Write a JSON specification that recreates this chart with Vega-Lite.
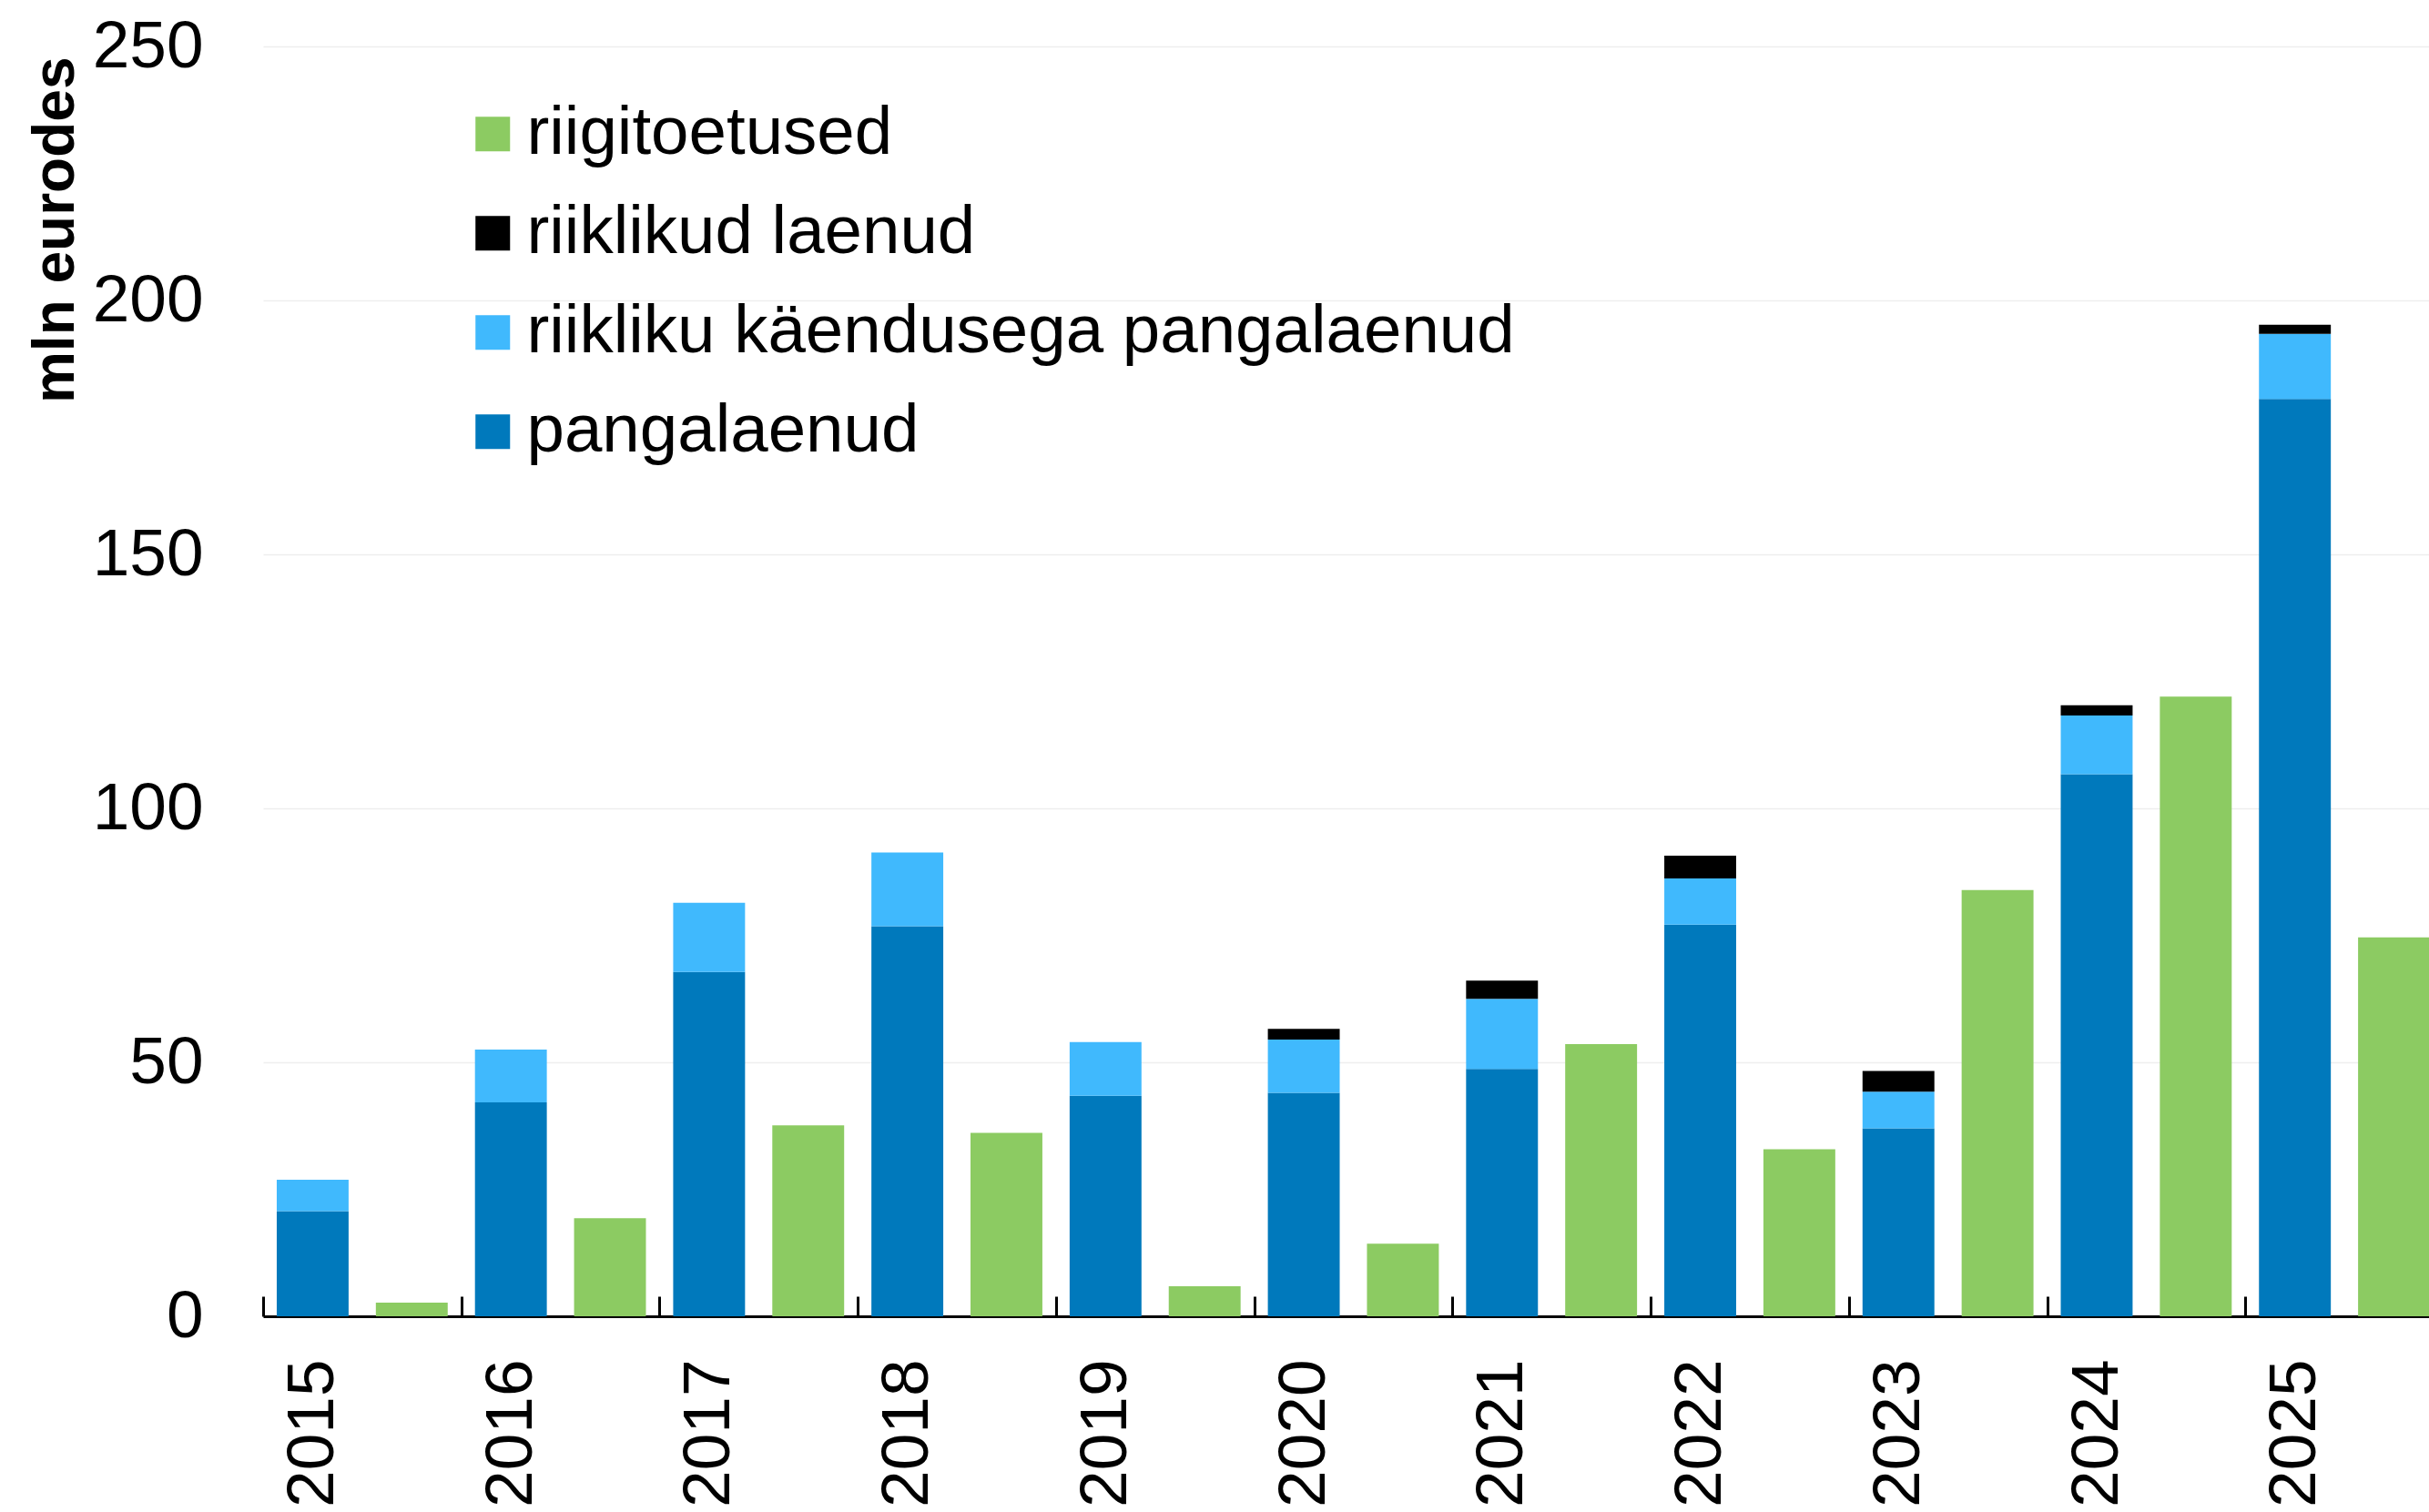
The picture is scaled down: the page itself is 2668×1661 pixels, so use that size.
{
  "$schema": "https://vega.github.io/schema/vega-lite/v6.json",
  "width": 2379,
  "height": 1395,
  "autosize": {"type": "none"},
  "padding": {"left": 289, "top": 51, "right": 0, "bottom": 215},
  "background": "white",
  "config": {"view": {"stroke": null}, "font": "Liberation Sans"},
  "data": {
    "values": [
      {"year": "2015", "kind": "laenud", "series": "pangalaenud", "value": 20.7},
      {"year": "2015", "kind": "laenud", "series": "riikliku käendusega pangalaenud", "value": 6.2},
      {"year": "2015", "kind": "toetus", "series": "riigitoetused", "value": 2.7},
      {"year": "2016", "kind": "laenud", "series": "pangalaenud", "value": 42.1},
      {"year": "2016", "kind": "laenud", "series": "riikliku käendusega pangalaenud", "value": 10.4},
      {"year": "2016", "kind": "toetus", "series": "riigitoetused", "value": 19.3},
      {"year": "2017", "kind": "laenud", "series": "pangalaenud", "value": 67.8},
      {"year": "2017", "kind": "laenud", "series": "riikliku käendusega pangalaenud", "value": 13.6},
      {"year": "2017", "kind": "toetus", "series": "riigitoetused", "value": 37.6},
      {"year": "2018", "kind": "laenud", "series": "pangalaenud", "value": 76.8},
      {"year": "2018", "kind": "laenud", "series": "riikliku käendusega pangalaenud", "value": 14.5},
      {"year": "2018", "kind": "toetus", "series": "riigitoetused", "value": 36.1},
      {"year": "2019", "kind": "laenud", "series": "pangalaenud", "value": 43.4},
      {"year": "2019", "kind": "laenud", "series": "riikliku käendusega pangalaenud", "value": 10.6},
      {"year": "2019", "kind": "toetus", "series": "riigitoetused", "value": 5.9},
      {"year": "2020", "kind": "laenud", "series": "pangalaenud", "value": 44.0},
      {"year": "2020", "kind": "laenud", "series": "riikliku käendusega pangalaenud", "value": 10.5},
      {"year": "2020", "kind": "laenud", "series": "riiklikud laenud", "value": 2.1},
      {"year": "2020", "kind": "toetus", "series": "riigitoetused", "value": 14.3},
      {"year": "2021", "kind": "laenud", "series": "pangalaenud", "value": 48.7},
      {"year": "2021", "kind": "laenud", "series": "riikliku käendusega pangalaenud", "value": 13.8},
      {"year": "2021", "kind": "laenud", "series": "riiklikud laenud", "value": 3.6},
      {"year": "2021", "kind": "toetus", "series": "riigitoetused", "value": 53.6},
      {"year": "2022", "kind": "laenud", "series": "pangalaenud", "value": 77.1},
      {"year": "2022", "kind": "laenud", "series": "riikliku käendusega pangalaenud", "value": 9.1},
      {"year": "2022", "kind": "laenud", "series": "riiklikud laenud", "value": 4.5},
      {"year": "2022", "kind": "toetus", "series": "riigitoetused", "value": 32.9},
      {"year": "2023", "kind": "laenud", "series": "pangalaenud", "value": 37.0},
      {"year": "2023", "kind": "laenud", "series": "riikliku käendusega pangalaenud", "value": 7.2},
      {"year": "2023", "kind": "laenud", "series": "riiklikud laenud", "value": 4.1},
      {"year": "2023", "kind": "toetus", "series": "riigitoetused", "value": 83.9},
      {"year": "2024", "kind": "laenud", "series": "pangalaenud", "value": 106.7},
      {"year": "2024", "kind": "laenud", "series": "riikliku käendusega pangalaenud", "value": 11.6},
      {"year": "2024", "kind": "laenud", "series": "riiklikud laenud", "value": 2.0},
      {"year": "2024", "kind": "toetus", "series": "riigitoetused", "value": 122.0},
      {"year": "2025", "kind": "laenud", "series": "pangalaenud", "value": 180.6},
      {"year": "2025", "kind": "laenud", "series": "riikliku käendusega pangalaenud", "value": 12.8},
      {"year": "2025", "kind": "laenud", "series": "riiklikud laenud", "value": 1.8},
      {"year": "2025", "kind": "toetus", "series": "riigitoetused", "value": 74.6}
    ]
  },
  "mark": {"type": "bar"},
  "encoding": {
    "x": {
      "field": "year",
      "type": "ordinal",
      "scale": {"range": [0, 2395], "paddingInner": 0, "paddingOuter": 0},
      "axis": {
        "title": null,
        "labelAngle": 270,
        "labelFontSize": 73,
        "labelColor": "black",
        "labelOffset": -54.4,
        "labelPadding": 69,
        "tickBand": "extent",
        "tickSize": -22,
        "tickWidth": 3,
        "tickColor": "black",
        "domainColor": "black",
        "domainWidth": 3,
        "grid": false
      }
    },
    "xOffset": {
      "field": "kind",
      "type": "nominal",
      "scale": {"domain": ["laenud", "toetus"], "paddingInner": 0.275, "paddingOuter": 0.1375}
    },
    "y": {
      "field": "value",
      "type": "quantitative",
      "stack": "zero",
      "scale": {"domain": [0, 250], "nice": false},
      "axis": {
        "title": "mln eurodes",
        "titleFontSize": 64,
        "titleFontWeight": "bold",
        "titleColor": "black",
        "titleAngle": 270,
        "titleAlign": "right",
        "titleBaseline": "alphabetic",
        "titleX": -209,
        "titleY": 11,
        "values": [0, 50, 100, 150, 200, 250],
        "labelFontSize": 73,
        "labelColor": "black",
        "labelPadding": 66,
        "ticks": false,
        "domain": false,
        "gridColor": "#EEEEEE",
        "gridWidth": 1.5
      }
    },
    "color": {
      "field": "series",
      "type": "nominal",
      "scale": {
        "domain": ["riigitoetused", "riiklikud laenud", "riikliku käendusega pangalaenud", "pangalaenud"],
        "range": ["#8CCB62", "#000000", "#40B9FD", "#0079BC"]
      },
      "legend": {
        "title": null,
        "orient": "none",
        "legendX": 215,
        "legendY": 59,
        "symbolType": "square",
        "symbolSize": 1444,
        "symbolStrokeWidth": 0,
        "labelFontSize": 74.5,
        "labelColor": "black",
        "labelOffset": 0,
        "rowPadding": 34,
        "padding": 0,
        "labelLimit": 2000
      }
    },
    "order": {"field": "series", "sort": "ascending"}
  }
}
